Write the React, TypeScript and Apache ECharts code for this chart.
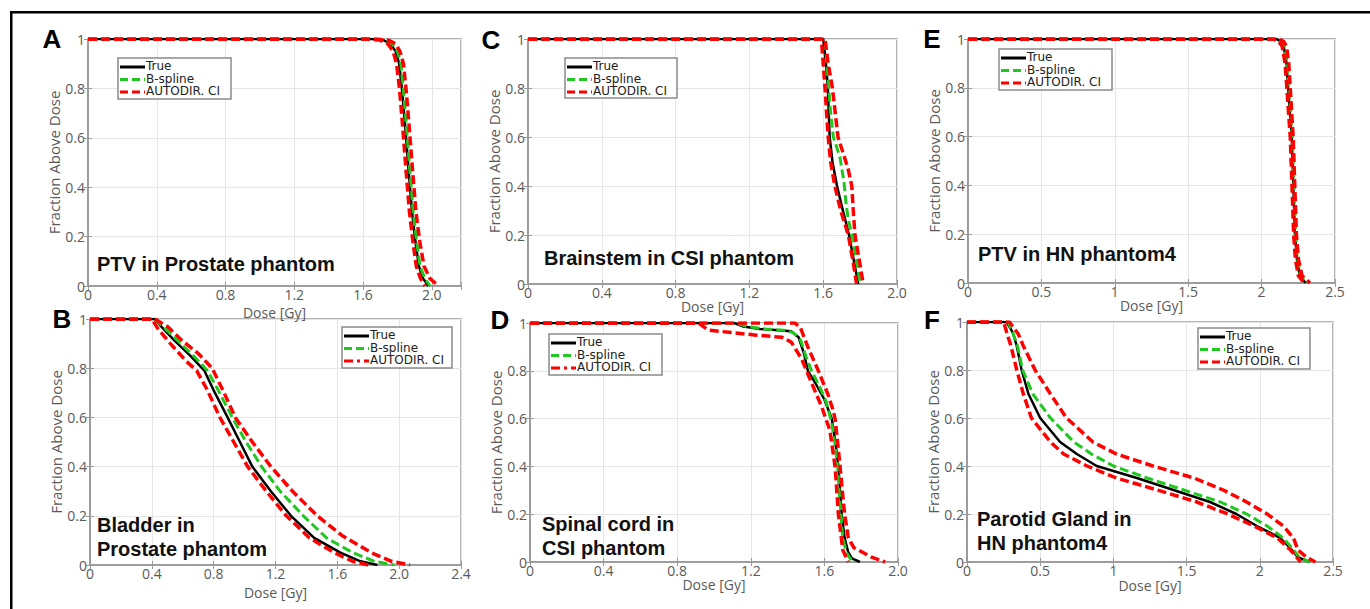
import React, { useEffect, useRef } from "react";
import * as echarts from "echarts";

// ---------- Data (dose [Gy], fraction above dose) ----------
const SERIES_NAMES = ["True", "B-spline", "AUTODIR. CI"];
const Y_TICKS = [0, 0.2, 0.4, 0.6, 0.8, 1];

// Panel A: PTV in Prostate phantom
const A_TRUE = [[0, 1], [1.65, 1], [1.72, 0.995], [1.76, 0.98], [1.79, 0.95], [1.81, 0.9], [1.826, 0.8], [1.845, 0.65], [1.865, 0.47], [1.885, 0.3], [1.905, 0.18], [1.925, 0.08], [1.95, 0.03], [1.98, 0]];
const A_BSPLINE = [[0, 1], [1.66, 1], [1.73, 0.995], [1.77, 0.98], [1.8, 0.95], [1.82, 0.9], [1.834, 0.8], [1.852, 0.65], [1.872, 0.47], [1.892, 0.3], [1.912, 0.18], [1.932, 0.08], [1.96, 0.03], [1.99, 0]];
const A_CI_LOW = [[0, 1], [1.63, 1], [1.7, 0.995], [1.745, 0.98], [1.775, 0.95], [1.795, 0.9], [1.812, 0.8], [1.83, 0.65], [1.85, 0.47], [1.87, 0.3], [1.89, 0.18], [1.91, 0.08], [1.935, 0.03], [1.96, 0]];
const A_CI_HIGH = [[0, 1], [1.68, 1], [1.75, 0.995], [1.79, 0.98], [1.815, 0.95], [1.835, 0.9], [1.85, 0.8], [1.868, 0.65], [1.888, 0.47], [1.908, 0.3], [1.93, 0.18], [1.955, 0.08], [1.99, 0.03], [2.04, 0]];

// Panel B: Bladder in Prostate phantom
const B_TRUE = [[0, 1], [0.42, 1], [0.46, 0.97], [0.55, 0.91], [0.65, 0.85], [0.74, 0.79], [0.8, 0.71], [0.89, 0.6], [0.97, 0.5], [1.05, 0.4], [1.17, 0.3], [1.3, 0.2], [1.45, 0.11], [1.62, 0.05], [1.75, 0.015], [1.86, 0]];
const B_BSPLINE = [[0, 1], [0.42, 1], [0.47, 0.97], [0.57, 0.91], [0.67, 0.85], [0.76, 0.79], [0.83, 0.71], [0.92, 0.6], [1.01, 0.5], [1.11, 0.4], [1.23, 0.3], [1.38, 0.2], [1.53, 0.11], [1.7, 0.05], [1.84, 0.015], [1.97, 0]];
const B_CI_LOW = [[0, 1], [0.4, 1], [0.44, 0.96], [0.52, 0.9], [0.62, 0.83], [0.69, 0.79], [0.76, 0.71], [0.84, 0.6], [0.93, 0.5], [1.02, 0.4], [1.14, 0.3], [1.27, 0.2], [1.42, 0.11], [1.58, 0.05], [1.7, 0.015], [1.8, 0]];
const B_CI_HIGH = [[0, 1], [0.42, 1], [0.5, 0.97], [0.6, 0.91], [0.7, 0.86], [0.79, 0.8], [0.86, 0.71], [0.94, 0.6], [1.05, 0.5], [1.17, 0.4], [1.31, 0.3], [1.47, 0.2], [1.63, 0.12], [1.82, 0.05], [1.95, 0.015], [2.07, 0]];

// Panel C: Brainstem in CSI phantom
const C_TRUE = [[0, 1], [1.6, 1], [1.615, 0.9], [1.625, 0.8], [1.63, 0.7], [1.635, 0.6], [1.65, 0.5], [1.675, 0.4], [1.7, 0.32], [1.72, 0.26], [1.74, 0.2], [1.765, 0.1], [1.79, 0]];
const C_BSPLINE = [[0, 1], [1.61, 1], [1.62, 0.9], [1.63, 0.8], [1.64, 0.7], [1.655, 0.6], [1.69, 0.52], [1.712, 0.42], [1.725, 0.32], [1.737, 0.26], [1.755, 0.2], [1.78, 0.1], [1.8, 0]];
const C_CI_LOW = [[0, 1], [1.59, 1], [1.6, 0.9], [1.61, 0.8], [1.618, 0.7], [1.627, 0.6], [1.64, 0.5], [1.663, 0.4], [1.695, 0.3], [1.736, 0.2], [1.76, 0.1], [1.781, 0]];
const C_CI_HIGH = [[0, 1], [1.61, 1], [1.627, 0.9], [1.65, 0.8], [1.665, 0.7], [1.68, 0.6], [1.71, 0.53], [1.735, 0.47], [1.755, 0.4], [1.763, 0.3], [1.772, 0.2], [1.795, 0.1], [1.817, 0]];

// Panel D: Spinal cord in CSI phantom
const D_TRUE = [[0, 1], [1.11, 1], [1.16, 0.985], [1.25, 0.975], [1.35, 0.97], [1.42, 0.965], [1.46, 0.94], [1.49, 0.87], [1.51, 0.8], [1.55, 0.75], [1.6, 0.68], [1.64, 0.6], [1.66, 0.5], [1.676, 0.4], [1.685, 0.3], [1.694, 0.2], [1.71, 0.1], [1.73, 0.04], [1.75, 0.015], [1.793, 0]];
const D_BSPLINE = [[0, 1], [1.12, 1], [1.18, 0.985], [1.28, 0.975], [1.38, 0.97], [1.43, 0.96], [1.47, 0.93], [1.5, 0.86], [1.53, 0.8], [1.57, 0.74], [1.61, 0.67], [1.64, 0.58], [1.66, 0.48], [1.672, 0.4], [1.68, 0.3], [1.69, 0.2], [1.7, 0.1], [1.72, 0.04], [1.74, 0.015], [1.766, 0]];
const D_CI_LOW = [[0, 1], [0.915, 1], [0.97, 0.97], [1.096, 0.96], [1.22, 0.95], [1.37, 0.94], [1.42, 0.92], [1.476, 0.85], [1.53, 0.75], [1.585, 0.65], [1.63, 0.55], [1.658, 0.4], [1.676, 0.2], [1.7, 0.05], [1.73, 0]];
const D_CI_HIGH = [[0, 1], [1.44, 1], [1.47, 0.98], [1.51, 0.9], [1.567, 0.8], [1.62, 0.7], [1.645, 0.64], [1.658, 0.6], [1.672, 0.5], [1.685, 0.4], [1.697, 0.3], [1.71, 0.2], [1.73, 0.1], [1.76, 0.06], [1.784, 0.05], [1.857, 0.02], [1.93, 0]];

// Panel E: PTV in HN phantom4
const E_TRUE = [[0, 1], [2.1, 1], [2.13, 0.99], [2.15, 0.97], [2.17, 0.9], [2.18, 0.8], [2.205, 0.6], [2.216, 0.4], [2.227, 0.2], [2.24, 0.1], [2.26, 0.03], [2.3, 0]];
const E_BSPLINE = [[0, 1], [2.105, 1], [2.135, 0.99], [2.155, 0.97], [2.175, 0.9], [2.185, 0.8], [2.21, 0.6], [2.221, 0.4], [2.232, 0.2], [2.245, 0.1], [2.265, 0.03], [2.31, 0]];
const E_CI_LOW = [[0, 1], [2.08, 1], [2.115, 0.99], [2.14, 0.97], [2.16, 0.9], [2.172, 0.8], [2.195, 0.6], [2.207, 0.4], [2.218, 0.2], [2.23, 0.1], [2.25, 0.03], [2.29, 0]];
const E_CI_HIGH = [[0, 1], [2.12, 1], [2.15, 0.99], [2.17, 0.97], [2.185, 0.9], [2.195, 0.8], [2.215, 0.6], [2.226, 0.4], [2.237, 0.2], [2.25, 0.1], [2.275, 0.03], [2.33, 0]];

// Panel F: Parotid Gland in HN phantom4
const F_TRUE = [[0, 1], [0.27, 1], [0.3, 0.97], [0.316, 0.95], [0.34, 0.9], [0.373, 0.8], [0.42, 0.7], [0.5, 0.6], [0.636, 0.5], [0.75, 0.45], [0.886, 0.4], [1.16, 0.35], [1.41, 0.3], [1.66, 0.25], [1.84, 0.2], [1.98, 0.15], [2.14, 0.1], [2.22, 0.05], [2.26, 0.02], [2.34, 0]];
const F_BSPLINE = [[0, 1], [0.28, 1], [0.31, 0.96], [0.345, 0.9], [0.38, 0.8], [0.45, 0.7], [0.57, 0.6], [0.73, 0.5], [0.85, 0.45], [1.0, 0.4], [1.23, 0.35], [1.48, 0.3], [1.73, 0.25], [1.91, 0.2], [2.05, 0.15], [2.16, 0.1], [2.23, 0.05], [2.27, 0.02], [2.34, 0]];
const F_CI_LOW = [[0, 1], [0.25, 1], [0.3, 0.9], [0.34, 0.8], [0.385, 0.7], [0.44, 0.6], [0.57, 0.5], [0.66, 0.45], [0.82, 0.4], [1.02, 0.35], [1.3, 0.3], [1.57, 0.25], [1.78, 0.2], [1.96, 0.15], [2.12, 0.1], [2.21, 0.05], [2.28, 0]];
const F_CI_HIGH = [[0, 1], [0.29, 1], [0.35, 0.95], [0.385, 0.9], [0.465, 0.8], [0.57, 0.7], [0.68, 0.6], [0.86, 0.5], [1.02, 0.45], [1.27, 0.4], [1.55, 0.35], [1.75, 0.3], [1.91, 0.25], [2.05, 0.2], [2.16, 0.15], [2.23, 0.1], [2.26, 0.05], [2.32, 0.02], [2.38, 0]];

const LETTERS = ["A", "B", "C", "D", "E", "F"];
const TITLES = [
  "PTV in Prostate phantom",
  "Bladder in\nProstate phantom",
  "Brainstem in CSI phantom",
  "Spinal cord in\nCSI phantom",
  "PTV in HN phantom4",
  "Parotid Gland in\nHN phantom4",
];
const X_MAX = [2.17, 2.4, 2.0, 2.0, 2.5, 2.5];
const X_STEP = [0.4, 0.4, 0.4, 0.4, 0.5, 0.5];
const X_DECIMALS = [1, 1, 1, 1, -1, -1];
const PANEL_DATA = [
  [A_TRUE, A_BSPLINE, A_CI_LOW, A_CI_HIGH],
  [B_TRUE, B_BSPLINE, B_CI_LOW, B_CI_HIGH],
  [C_TRUE, C_BSPLINE, C_CI_LOW, C_CI_HIGH],
  [D_TRUE, D_BSPLINE, D_CI_LOW, D_CI_HIGH],
  [E_TRUE, E_BSPLINE, E_CI_LOW, E_CI_HIGH],
  [F_TRUE, F_BSPLINE, F_CI_LOW, F_CI_HIGH],
];

// ---------- Layout ----------
const LAYOUT = [
  { grid: { left: 88, top: 39, width: 373, height: 247 }, nameGap: 19, yGap: 22, letter: [52, 39], title: [97, 263.5], legend: [118, 58, 113, 41], dashDot: false },
  { grid: { left: 90, top: 319, width: 371, height: 246 }, nameGap: 20, yGap: 24, letter: [62, 318.5], title: [97, 536.5], legend: [342, 327, 110, 41], dashDot: true },
  { grid: { left: 528, top: 39, width: 369, height: 245 }, nameGap: 14, yGap: 23, letter: [491, 39.5], title: [544, 257.5], legend: [565, 58, 112, 40], dashDot: false },
  { grid: { left: 530, top: 323, width: 368, height: 239 }, nameGap: 14, yGap: 24, letter: [500, 320], title: [542, 535.5], legend: [549, 334, 113, 41], dashDot: true },
  { grid: { left: 968, top: 39, width: 367, height: 244 }, nameGap: 12, yGap: 24, letter: [932, 39], title: [978, 253.5], legend: [999, 49, 113, 41], dashDot: false },
  { grid: { left: 967, top: 322, width: 366, height: 240 }, nameGap: 16, yGap: 24, letter: [932, 320], title: [977, 531], legend: [1198, 328, 112, 41], dashDot: false },
];

const AXIS_FONT = '"Open Sans", "DejaVu Sans", sans-serif';
const LEGEND_FONT = '"DejaVu Sans", sans-serif';
const BOLD_FONT = '"Liberation Sans", Arial, sans-serif';
const BOX = "#9a9a9a";
const LABEL = "#5a5a5a";
const COLORS = ["#000000", "#1fc81f", "#ff0000"];

function buildOption() {
  const grid: any[] = [];
  const xAxis: any[] = [];
  const yAxis: any[] = [];
  const series: any[] = [];
  const graphic: any[] = [];

  LAYOUT.forEach((L, i) => {
    grid.push({ ...L.grid, show: true, borderColor: BOX, borderWidth: 1.5, backgroundColor: "#fff", containLabel: false });
    const step = X_STEP[i];
    xAxis.push({
      type: "value", gridIndex: i, min: 0, max: X_MAX[i], interval: step,
      name: "Dose [Gy]", nameLocation: "middle", nameGap: L.nameGap,
      nameTextStyle: { color: LABEL, fontSize: 14, fontFamily: AXIS_FONT, lineHeight: 14 },
      axisLine: { show: true, lineStyle: { color: BOX, width: 1.5 } },
      axisTick: { show: true, inside: true, length: 4, lineStyle: { color: BOX } },
      axisLabel: {
        color: LABEL, fontSize: 14, fontFamily: AXIS_FONT, margin: 1, lineHeight: 14,
        formatter: (v: number) => {
          const k = v / step;
          if (Math.abs(k - Math.round(k)) > 1e-6) return "";
          if (Math.abs(v) < 1e-9) return "0";
          return X_DECIMALS[i] > 0 ? v.toFixed(X_DECIMALS[i]) : String(Math.round(v * 10) / 10);
        },
      },
      splitLine: { show: true, lineStyle: { color: "#e6e6e6", width: 1 } },
    });
    yAxis.push({
      type: "value", gridIndex: i, min: 0, max: 1, interval: 0.2,
      name: "Fraction Above Dose", nameLocation: "middle", nameGap: L.yGap,
      nameTextStyle: { color: LABEL, fontSize: 15, fontFamily: AXIS_FONT },
      axisLine: { show: true, lineStyle: { color: BOX, width: 1.5 } },
      axisTick: { show: true, inside: true, length: 4, lineStyle: { color: BOX } },
      axisLabel: {
        color: LABEL, fontSize: 14, fontFamily: AXIS_FONT, margin: 3,
        formatter: (v: number) => {
          const t = Y_TICKS.find((y) => Math.abs(y - v) < 1e-9);
          if (t === undefined) return "";
          return t === 0 ? "0" : t === 1 ? "1" : t.toFixed(1);
        },
      },
      splitLine: { show: true, lineStyle: { color: "#e6e6e6", width: 1 } },
    });
  });
  LAYOUT.forEach((L, i) => {
    xAxis.push({
      type: "value", gridIndex: i, position: "top", min: 0, max: X_MAX[i], interval: X_STEP[i],
      axisLine: { show: true, lineStyle: { color: BOX, width: 1.5 } },
      axisTick: { show: true, inside: true, length: 4, lineStyle: { color: BOX } },
      axisLabel: { show: false }, splitLine: { show: false },
    });
    yAxis.push({
      type: "value", gridIndex: i, position: "right", min: 0, max: 1, interval: 0.2,
      axisLine: { show: true, lineStyle: { color: BOX, width: 1.5 } },
      axisTick: { show: true, inside: true, length: 4, lineStyle: { color: BOX } },
      axisLabel: { show: false }, splitLine: { show: false },
    });
  });

  PANEL_DATA.forEach((sets, i) => {
    const styles = [
      { name: SERIES_NAMES[0], color: COLORS[0], width: 2.5, type: "solid", z: 3 },
      { name: SERIES_NAMES[1], color: COLORS[1], width: 3, type: [9, 4], z: 4 },
      { name: SERIES_NAMES[2], color: COLORS[2], width: 3.5, type: [9, 4], z: 5 },
      { name: SERIES_NAMES[2], color: COLORS[2], width: 3.5, type: [9, 4], z: 5 },
    ];
    sets.forEach((d, k) => {
      const s = styles[k];
      series.push({
        type: "line", name: s.name, xAxisIndex: i, yAxisIndex: i, data: d,
        showSymbol: false, symbol: "none", z: s.z, silent: true,
        lineStyle: { color: s.color, width: s.width, type: s.type, cap: "butt", join: "round" },
      });
    });
  });

  LAYOUT.forEach((L, i) => {
    graphic.push({
      type: "text", x: L.letter[0], y: L.letter[1], z: 100,
      style: { text: LETTERS[i], font: `bold 26px ${BOLD_FONT}`, fill: "#000", align: "center", verticalAlign: "middle" },
    });
    graphic.push({
      type: "text", x: L.title[0], y: L.title[1], z: 100,
      style: { text: TITLES[i], font: `bold 20px ${BOLD_FONT}`, fill: "#111", align: "left", verticalAlign: "middle", lineHeight: 24 },
    });
    const [lx, ly, lw, lh] = L.legend;
    graphic.push({
      type: "rect", z: 100, shape: { x: lx, y: ly, width: lw, height: lh },
      style: { fill: "#fff", stroke: "#8a8a8a", lineWidth: 1.5 },
    });
    const rows = [8, 20.5, 33];
    const legendStyles = [
      { color: COLORS[0], width: 3, dash: null as any },
      { color: COLORS[1], width: 3, dash: [8, 4] },
      { color: COLORS[2], width: 3, dash: L.dashDot ? [9, 4, 3, 4] : [8, 4] },
    ];
    rows.forEach((r, k) => {
      const ls = legendStyles[k];
      graphic.push({
        type: "line", z: 101, shape: { x1: lx + 2, y1: ly + r + 1, x2: lx + 27, y2: ly + r + 1 },
        style: { stroke: ls.color, lineWidth: ls.width, lineDash: ls.dash },
      });
      graphic.push({
        type: "text", z: 101, x: lx + 28, y: ly + r,
        style: { text: SERIES_NAMES[k], font: `12px ${LEGEND_FONT}`, fill: "#222", align: "left", verticalAlign: "middle", lineHeight: 12 },
      });
    });
  });

  // outer figure frame (top and left edges visible)
  graphic.push({ type: "rect", z: 100, shape: { x: 10, y: 11, width: 1360, height: 2.5 }, style: { fill: "#000" } });
  graphic.push({ type: "rect", z: 100, shape: { x: 10, y: 11, width: 2.5, height: 598 }, style: { fill: "#000" } });

  return { animation: false, backgroundColor: "#fff", grid, xAxis, yAxis, series, graphic };
}

export default function App() {
  const ref = useRef<HTMLDivElement>(null);
  useEffect(() => {
    if (!ref.current) return;
    const chart = echarts.init(ref.current, undefined, { renderer: "svg" });
    chart.setOption(buildOption() as any);
    return () => chart.dispose();
  }, []);
  return <div ref={ref} style={{ position: "fixed", left: 0, top: 0, width: 1370, height: 609 }} />;
}
